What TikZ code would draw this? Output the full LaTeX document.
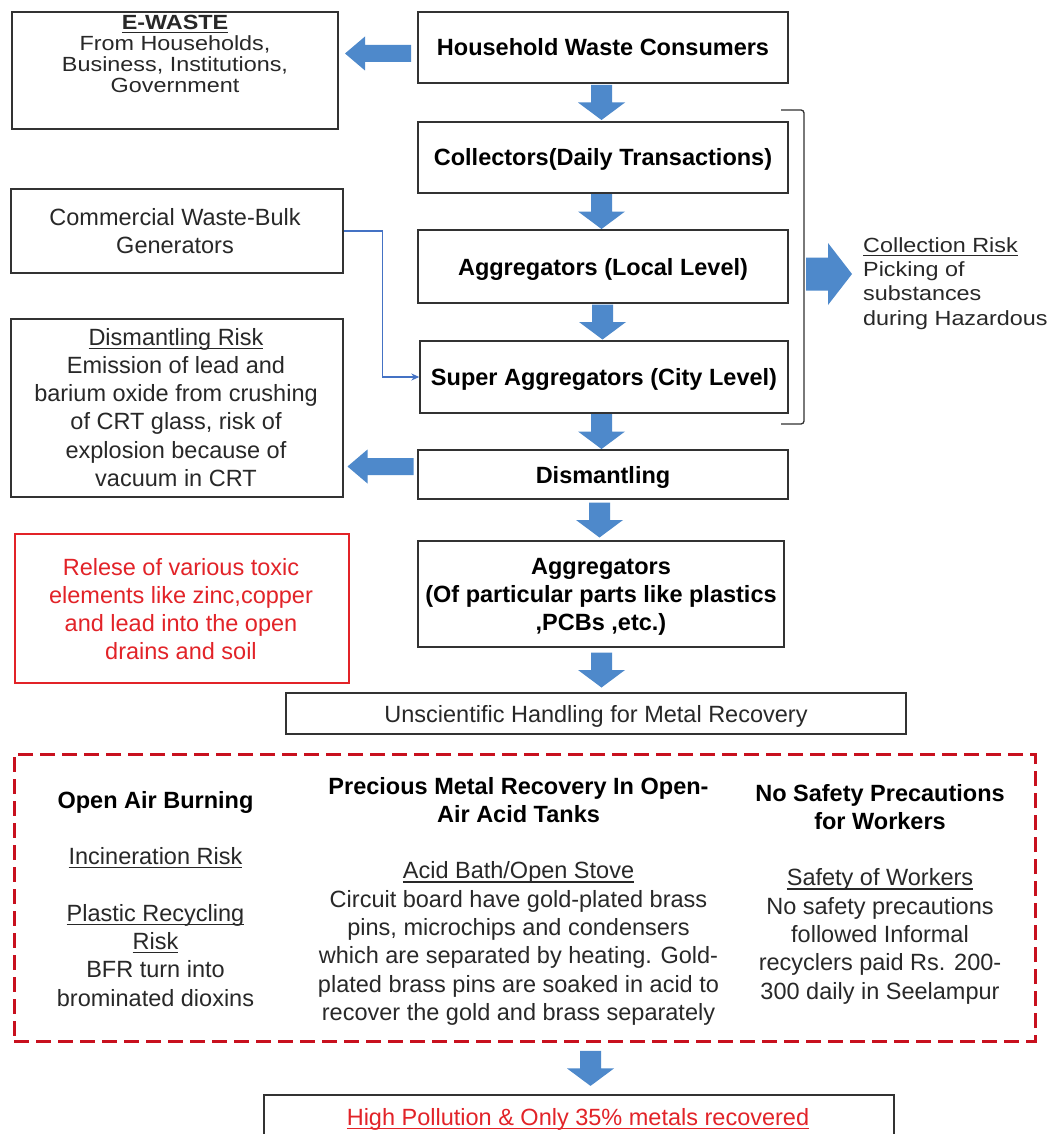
\documentclass[tikz,border=0pt]{standalone}
\usepackage{fontspec}
\setmainfont{Liberation Sans}
\newfontfamily\wideface[FakeStretch=1.14]{Liberation Sans}
\usetikzlibrary{calc,arrows.meta}

\definecolor{arrowblue}{RGB}{78,137,203}
\definecolor{linkblue}{RGB}{68,114,196}
\definecolor{boxgray}{RGB}{50,50,50}
\definecolor{textgray}{RGB}{40,40,40}
\definecolor{warnred}{RGB}{226,35,40}
\definecolor{dashred}{RGB}{200,16,30}

\newcommand\mainsz{\fontsize{23.5pt}{28.3pt}\selectfont}
\newcommand\widesz{\wideface\fontsize{20.5pt}{20.8pt}\selectfont}
\newcommand\risksz{\wideface\fontsize{20.5pt}{24.4pt}\selectfont}
% underline at a fixed depth below the baseline
\newcommand\ulbox[1]{\setbox0=\hbox{#1}\rlap{\rule[-3.8pt]{\wd0}{1.3pt}}\box0}

% vertical block arrow centred in the gap between two nodes
\newcommand\vblock[3][0]{%
  \path[blockarrow] let \p1=($(#2.south)!.5!(#3.north)$), \p2=(#3.north) in
    (\x2+#1pt-10.5pt,\y1+17.5pt) -- (\x2+#1pt+10.5pt,\y1+17.5pt) --
    (\x2+#1pt+10.5pt,\y1) -- (\x2+#1pt+23.5pt,\y1) -- (\x2+#1pt,\y1-17.5pt) --
    (\x2+#1pt-23.5pt,\y1) -- (\x2+#1pt-10.5pt,\y1) -- cycle;}
% leftward block arrow from #2 (west side) to #3 (east side)
\newcommand\hblock[3][0]{%
  \path[blockarrow] let \p1=($(#2.west)!.5!(#3.east)$), \p3=($(#2.west)+(0,#1)$) in
    (\x1+33pt,\y3+8.5pt) -- (\x1-13pt,\y3+8.5pt) -- (\x1-13pt,\y3+17pt) --
    (\x1-33pt,\y3) -- (\x1-13pt,\y3-17pt) -- (\x1-13pt,\y3-8.5pt) --
    (\x1+33pt,\y3-8.5pt) -- cycle;}

\begin{document}
\begin{tikzpicture}[x=1pt,y=-1pt,
  box/.style={draw=boxgray, line width=1.4pt, inner sep=0pt},
  mainbox/.style={box, font=\mainsz\bfseries, text=black, text height=17pt, text depth=0pt},
  plainbox/.style={box, font=\mainsz, text=textgray, text height=17pt, text depth=0pt},
  warnbox/.style={draw=warnred, line width=1.4pt, inner sep=0pt},
  dashbox/.style={draw=dashred, line width=3pt, dash pattern=on 15pt off 7pt, inner sep=0pt},
  blocktext/.style={anchor=base, align=center, inner sep=0pt, font=\mainsz, text=textgray},
  blockarrow/.style={fill=arrowblue},
  connector/.style={draw=linkblue, line width=1.3pt, -{Stealth[length=8pt,width=7pt]}},
  bracketline/.style={draw=boxgray, line width=1.3pt, rounded corners=3pt}]

\useasboundingbox (0,0) rectangle (1054,1134);
\clip (0,0) rectangle (1054,1134);
\fill[white] (0,0) rectangle (1054,1134);

% main chain of boxes (multi-line texts are placed by the baseline of their last line)
\node[mainbox, minimum width=370pt, minimum height=71pt] (hh) at (603,47.5) {Household Waste Consumers};
\node[mainbox, minimum width=370pt, minimum height=71pt] (col) at (603,157.5) {Collectors(Daily Transactions)};
\node[mainbox, minimum width=370pt, minimum height=73pt] (agl) at (603,266.5) {Aggregators (Local Level)};
\node[mainbox, minimum width=368pt, minimum height=72pt] (sag) at (604,377) {Super Aggregators (City Level)};
\node[mainbox, minimum width=370pt, minimum height=49pt] (dis) at (603,474.5) {Dismantling};
\node[box, minimum width=366pt, minimum height=106pt] (agp) at (601,594) {};
\node[blocktext, font=\mainsz\bfseries, text=black] (agp-t) at (601,630.6)
  {Aggregators\\(Of particular parts like plastics\\,PCBs ,etc.)};
\node[plainbox, minimum width=620pt, minimum height=41pt] (uns) at (596,713.5) {Unscientific Handling for Metal Recovery};

% side boxes
\node[box, minimum width=326pt, minimum height=117pt] (ew) at (175,70.5) {};
\node[blocktext, font=\widesz] (ew-t) at (175,92.1)
  {\ulbox{\bfseries E-WASTE}\\From Households,\\Business, Institutions,\\Government};
\node[box, minimum width=332pt, minimum height=84pt] (com) at (177,231) {};
\node[blocktext] (com-t) at (175,253.3) {Commercial Waste-Bulk\\Generators};
\node[box, minimum width=332pt, minimum height=178pt] (dr) at (177,408) {};
\node[blocktext] (dr-t) at (176,486.5)
  {\ulbox{Dismantling Risk}\\Emission of lead and\\barium oxide from crushing\\of CRT glass, risk of\\explosion because of\\vacuum in CRT};
\node[warnbox, minimum width=334pt, minimum height=149pt] (rel) at (182,608.5) {};
\node[blocktext, text=warnred] (rel-t) at (181,659.9)
  {Relese of various toxic\\elements like zinc,copper\\and lead into the open\\drains and soil};

% collection-stage bracket and its risk note
\coordinate (brtop) at (781,110);
\coordinate (brbot) at (781,424);
\draw[bracketline] (brtop) -- (804,110) -- (804,424) -- (brbot);
\coordinate (brmid) at (806,274);
\node[anchor=base west, align=left, inner sep=0pt, font=\risksz, text=textgray] (cr-t) at (863,325.2)
  {\ulbox{Collection Risk}\\Picking of\\substances\\during Hazardous};
\path[blockarrow] (brmid) +(0,-16.5) -- +(22,-16.5) -- +(22,-31) -- +(46,0) -- +(22,31) -- +(22,16.5) -- +(0,16.5) -- cycle;

% informal recycling risks
\node[dashbox, minimum width=1021pt, minimum height=287pt] (risk) at (524.5,897.5) {};
\node[blocktext] (burn) at (155.5,1006.1)
  {\textbf{\color{black}Open Air Burning}\\[28.3pt]\ulbox{Incineration Risk}\\[28.3pt]\ulbox{Plastic Recycling}\\\ulbox{Risk}\\BFR turn into\\brominated dioxins};
\node[blocktext] (acid) at (518.5,1020.4)
  {\textbf{\color{black}Precious Metal Recovery In Open-}\\\textbf{\color{black}Air Acid Tanks}\\[28.3pt]\ulbox{Acid Bath/Open Stove}\\Circuit board have gold-plated brass\\pins, microchips and condensers\\which are separated by heating. Gold-\\plated brass pins are soaked in acid to\\recover the gold and brass separately};
\node[blocktext] (safe) at (880,999.1)
  {\textbf{\color{black}No Safety Precautions}\\\textbf{\color{black}for Workers}\\[28.3pt]\ulbox{Safety of Workers}\\No safety precautions\\followed Informal\\recyclers paid Rs. 200-\\300 daily in Seelampur};

% outcome
\node[box, minimum width=630pt, minimum height=60pt] (fin) at (579,1125) {};
\node[blocktext, text=warnred] (fin-t) at (578,1125) {\ulbox{High Pollution \& Only 35\% metals recovered}};

% block arrows
\vblock[-1.5]{hh}{col}
\vblock[-1.5]{col}{agl}
\vblock[-1.5]{agl}{sag}
\vblock[-1.5]{sag}{dis}
\vblock[-1.5]{dis}{agp}
\vblock[5.5]{agp}{uns}
\vblock[11.5]{risk}{fin}
\hblock[6]{hh}{ew}
\hblock[-8]{dis}{dr}

% bulk generators feed the super aggregators
\draw[connector] (com.east) -- ++(39,0) |- (sag.west);
\end{tikzpicture}
\end{document}
